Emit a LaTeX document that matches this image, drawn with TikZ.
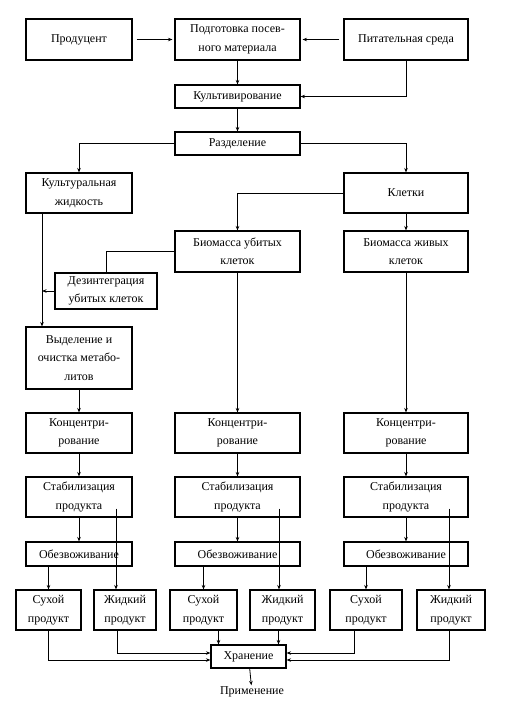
\documentclass[tikz,border=0pt]{standalone}
\usepackage{fontspec}
\setmainfont{Liberation Serif}
\usetikzlibrary{arrows.meta}
\begin{document}
\begin{tikzpicture}[x=1pt,y=-1pt,>={Stealth[length=4.5pt,width=3.5pt]},
        box/.style 2 args={draw,line width=1.1pt,fill=white,align=center,inner sep=1pt,
            minimum width=#1pt,minimum height=#2pt,font=\fontsize{12}{18.5}\selectfont},
        every path/.style={line width=0.8pt}]
        \useasboundingbox (0,0) rectangle (513,705);
        \node[box={106}{41}] (prod) at (79,39.5) {Продуцент};
        \node[box={125}{41}] (podg) at (237.5,39.5) {Подготовка посев-\\ного материала};
        \node[box={124}{41}] (pit) at (406,39.5) {Питательная среда};
        \node[box={125}{23}] (kult) at (237.5,96.5) {Культивирование};
        \node[box={125}{23}] (razd) at (237.5,143.5) {Разделение};
        \node[box={106}{40}] (kzh) at (79,193) {Культуральная\\жидкость};
        \node[box={124}{40}] (klet) at (406,193) {Клетки};
        \node[box={125}{41}] (bub) at (237.5,251.5) {Биомасса убитых\\клеток};
        \node[box={124}{41}] (bzh) at (406,251.5) {Биомасса живых\\клеток};
        \node[box={102}{36}] (dez) at (106,291) {Дезинтеграция\\убитых клеток};
        \node[box={106}{62}] (vyd) at (79,358) {Выделение и\\очистка метабо-\\литов};
        \foreach \n/\x/\w in {1/79/106,2/237.5/125,3/406/124} {
            \node[box={\w}{40}] (konc\n) at (\x,433) {Концентри-\\рование};
            \node[box={\w}{40}] (stab\n) at (\x,497) {Стабилизация\\продукта};
            \node[box={\w}{24}] (obezv\n) at (\x,554) {Обезвоживание};
        }
        \foreach \n/\x/\w in {1/48.5/65,2/203.5/67,3/366/72}
            \node[box={\w}{40}] (suh\n) at (\x,610) {Сухой\\продукт};
        \foreach \n/\x/\w in {1/125/62,2/282.5/65,3/451/68}
            \node[box={\w}{40}] (zh\n) at (\x,610) {Жидкий\\продукт};
        \node[box={75}{23}] (hran) at (248.5,656.5) {Хранение};
        \node[inner sep=1pt,font=\fontsize{12}{14}\selectfont] (prim) at (252,692) {Применение};

        \draw[->,shorten <=4pt,shorten >=2pt] (prod) -- (podg);
        \draw[->,shorten <=4pt,shorten >=2pt] (pit) -- (podg);
        \draw[->] (podg) -- (kult);
        \draw[->] (pit.south) |- (kult.east);
        \draw[->] (kult) -- (razd);
        \draw[->] (razd.west) -| (kzh.north);
        \draw[->] (razd.east) -| (klet.north);
        \draw[->] (klet.west) -| (bub.north);
        \draw[->] (klet) -- (bzh);
        \draw (bub.west) -| (dez.north);
        \coordinate (kline) at ([xshift=-37pt]kzh.south);
        \draw[->] (kline) -- (kline |- vyd.north);
        \draw[->] (dez.west) -- (dez.west -| kline);
        \draw[->] (vyd) -- (konc1);
        \draw[->] (bub) -- (konc2);
        \draw[->] (bzh) -- (konc3);
        \foreach \n/\d in {1/37,2/41.5,3/43} {
            \draw[->] (konc\n) -- (stab\n);
            \draw[->] (stab\n) -- (obezv\n);
            \draw[->] ([xshift=\d pt,yshift=9pt]stab\n.south) -- ([xshift=\d pt]stab\n.south |- zh\n.north);
            \draw[->] (suh\n.north |- obezv\n.south) -- (suh\n.north);
        }
        \draw[->] (suh1.south) |- ([yshift=-3.5pt]hran.west);
        \draw[->] ([xshift=-8pt]zh1.south) |- ([yshift=3.5pt]hran.west);
        \draw[->] ([xshift=-30pt]hran.north |- suh2.south) -- ([xshift=-30pt]hran.north);
        \draw[->] ([xshift=30pt]hran.north |- zh2.south) -- ([xshift=30pt]hran.north);
        \draw[->] ([xshift=-12pt]suh3.south) |- ([yshift=3.5pt]hran.east);
        \draw[->] ([xshift=-2pt]zh3.south) |- ([yshift=-3.5pt]hran.east);
        \draw[->] (hran) -- (prim);
    \end{tikzpicture}
\end{document}
